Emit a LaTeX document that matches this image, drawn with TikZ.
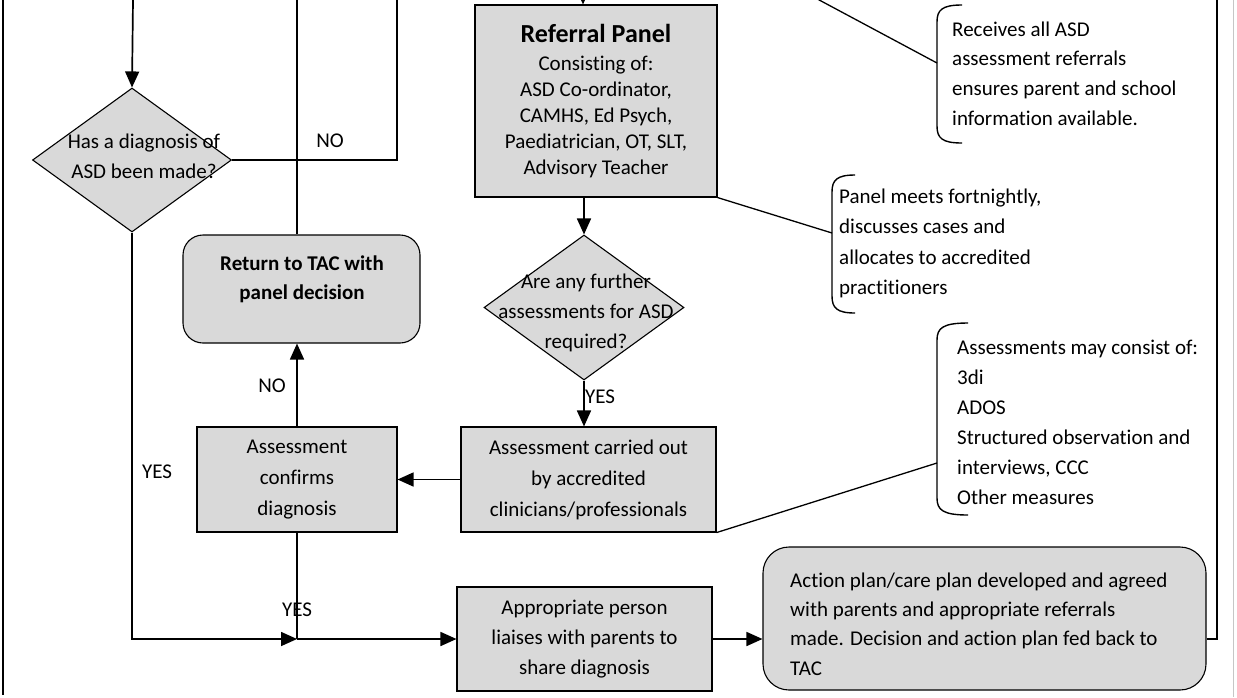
\documentclass[tikz,border=0pt]{standalone}
\usepackage{fontspec}
\setmainfont{Carlito}[Ligatures=NoCommon]
\usetikzlibrary{arrows.meta,shapes.geometric}
\definecolor{boxgrey}{HTML}{D9D9D9}
\begin{document}
\begin{tikzpicture}[x=1pt,y=-1pt,
  box/.style={draw=black, line width=1.1pt, fill=boxgrey, inner sep=0pt},
  rbox/.style={box, rounded corners=20pt},
  dia/.style={box, diamond},
  conn/.style={line width=1.7pt},
  arr/.style={conn, -{Triangle[length=16pt,width=14pt]}},
  txt/.style={font=\fontsize{21}{31}\selectfont, align=center, inner sep=0pt},
  lbl/.style={font=\fontsize{21}{25}\selectfont, inner sep=0pt},
  note/.style={font=\fontsize{21}{30}\selectfont, align=left, inner sep=0pt, anchor=west},
  brace/.style={line width=1.4pt}
]
\useasboundingbox (0,0) rectangle (1237,697);
\clip (0,0) rectangle (1237,697);
\fill[white] (0,0) rectangle (1237,697);

% frame lines
\coordinate (fl1) at (3,0);
\coordinate (fl2) at (3,695);
\draw[conn] (fl1) -- (fl2);
\coordinate (gr1) at (1233,0);
\coordinate (gr2) at (1233,697);
\draw[gray!45, line width=1pt] (gr1) -- (gr2);

% nodes
\node[box, txt, font=\fontsize{21}{26}\selectfont, minimum width=242pt, minimum height=192pt] (rp) at (596,101)
  {{\fontsize{26}{28}\selectfont\bfseries Referral Panel}\\[2pt]
   Consisting of:\\ASD Co-ordinator,\\CAMHS, Ed Psych,\\Paediatrician, OT, SLT,\\Advisory Teacher};
\node[dia, minimum width=199pt, minimum height=144pt] (d1) at (132,160) {};
\node[txt, font=\fontsize{21}{30}\selectfont] (d1t) at (144,156) {Has a diagnosis of\\ASD been made?};
\node[dia, minimum width=200pt, minimum height=145pt] (d2) at (584,307.5) {};
\node[txt, font=\fontsize{21}{30}\selectfont] (d2t) at (586,313) {Are any further\\assessments for ASD\\required?};
\node[rbox, minimum width=237pt, minimum height=108pt] (ret) at (301.5,289) {};
\node[txt, font=\fontsize{21}{29}\selectfont\bfseries] (rett) at (302,279.5) {Return to TAC with\\panel decision};
\node[box, txt, minimum width=200pt, minimum height=105pt] (ac) at (297,479.5)
  {Assessment\\confirms\\diagnosis};
\node[box, txt, minimum width=255pt, minimum height=105pt] (aco) at (588.5,479.5)
  {Assessment carried out\\by accredited\\clinicians/professionals};
\node[box, txt, font=\fontsize{21}{30}\selectfont, minimum width=255pt, minimum height=104pt] (ap) at (584.5,639)
  {Appropriate person\\liaises with parents to\\share diagnosis};
\node[rbox, rounded corners=26pt, minimum width=443pt, minimum height=143pt] (act) at (984.5,618.5) {};
\node[note, font=\fontsize{21}{29.3}\selectfont] (actt) at (790,624)
  {Action plan/care plan developed and agreed\\with parents and appropriate referrals\\made. Decision and action plan fed back to\\TAC};

% coordinates
\coordinate (t1) at (133,0);
\coordinate (t2) at (397,0);
\coordinate (t3) at (297,0);
\coordinate (t4) at (583,-30);
\coordinate (t5) at (1217,0);
\coordinate (j) at (297,639);

% connectors
\draw[arr] (t1) -- (d1.north);
\draw[conn] (d1.east) -| (t2);
\draw[conn] (t3 |- ret.north) -- (t3);
\draw[arr] (ac.north) -- (ac.north |- ret.south);
\draw[arr] (d1.south) |- (j);
\draw[conn] (ac.south) -- (j);
\draw[arr] (j) -- (ap.west);
\draw[arr] (ap.east) -- (ap.east -| act.west);
\draw[conn] (ap.east -| act.east) -| (t5);
\draw[arr] (t4) -- (rp.north -| t4);
\draw[arr] (rp.south -| d2.north) -- (d2.north);
\draw[arr] (d2.south) -- (d2.south |- aco.north);
\draw[arr] (aco.west) -- (aco.west -| ac.east);

% labels
\node[lbl] (no1) at (330,141) {NO};
\node[lbl] (no2) at (272,386) {NO};
\node[lbl] (yes1) at (157,472) {YES};
\node[lbl] (yes2) at (600,397) {YES};
\node[lbl] (yes3) at (297,610) {YES};

% callout brackets
\draw[brace] (962,5) .. controls (942,5) and (937,10) .. (937,22) -- (937,126) .. controls (937,138) and (942,143) .. (962,143);
\coordinate (b1) at (937,63);
\draw[brace] (855,175) .. controls (837,175) and (832,180) .. (832,192) -- (832,296) .. controls (832,308) and (837,313) .. (855,313);
\coordinate (b2) at (832,233);
\draw[brace] (968,323) .. controls (943,323) and (937,328) .. (937,340) -- (937,498) .. controls (937,510) and (943,515) .. (968,515);
\coordinate (b3) at (937,463);

\coordinate (cl1) at (808,-6);
\draw[conn, line width=1.3pt] (cl1) -- (b1);
\draw[conn, line width=1.3pt] (rp.south east) -- (b2);
\draw[conn, line width=1.3pt] (aco.south east) -- (b3);

\node[note, font=\fontsize{21}{29.7}\selectfont] (n1) at (952,73.5)
  {Receives all ASD\\assessment referrals\\ensures parent and school\\information available.};
\node[note, font=\fontsize{21}{30.3}\selectfont] (n2) at (839,243.5)
  {Panel meets fortnightly,\\discusses cases and\\allocates to accredited\\practitioners};
\node[note] (n3) at (957,422)
  {Assessments may consist of:\\3di\\ADOS\\Structured observation and\\interviews, CCC\\Other measures};
\end{tikzpicture}
\end{document}
